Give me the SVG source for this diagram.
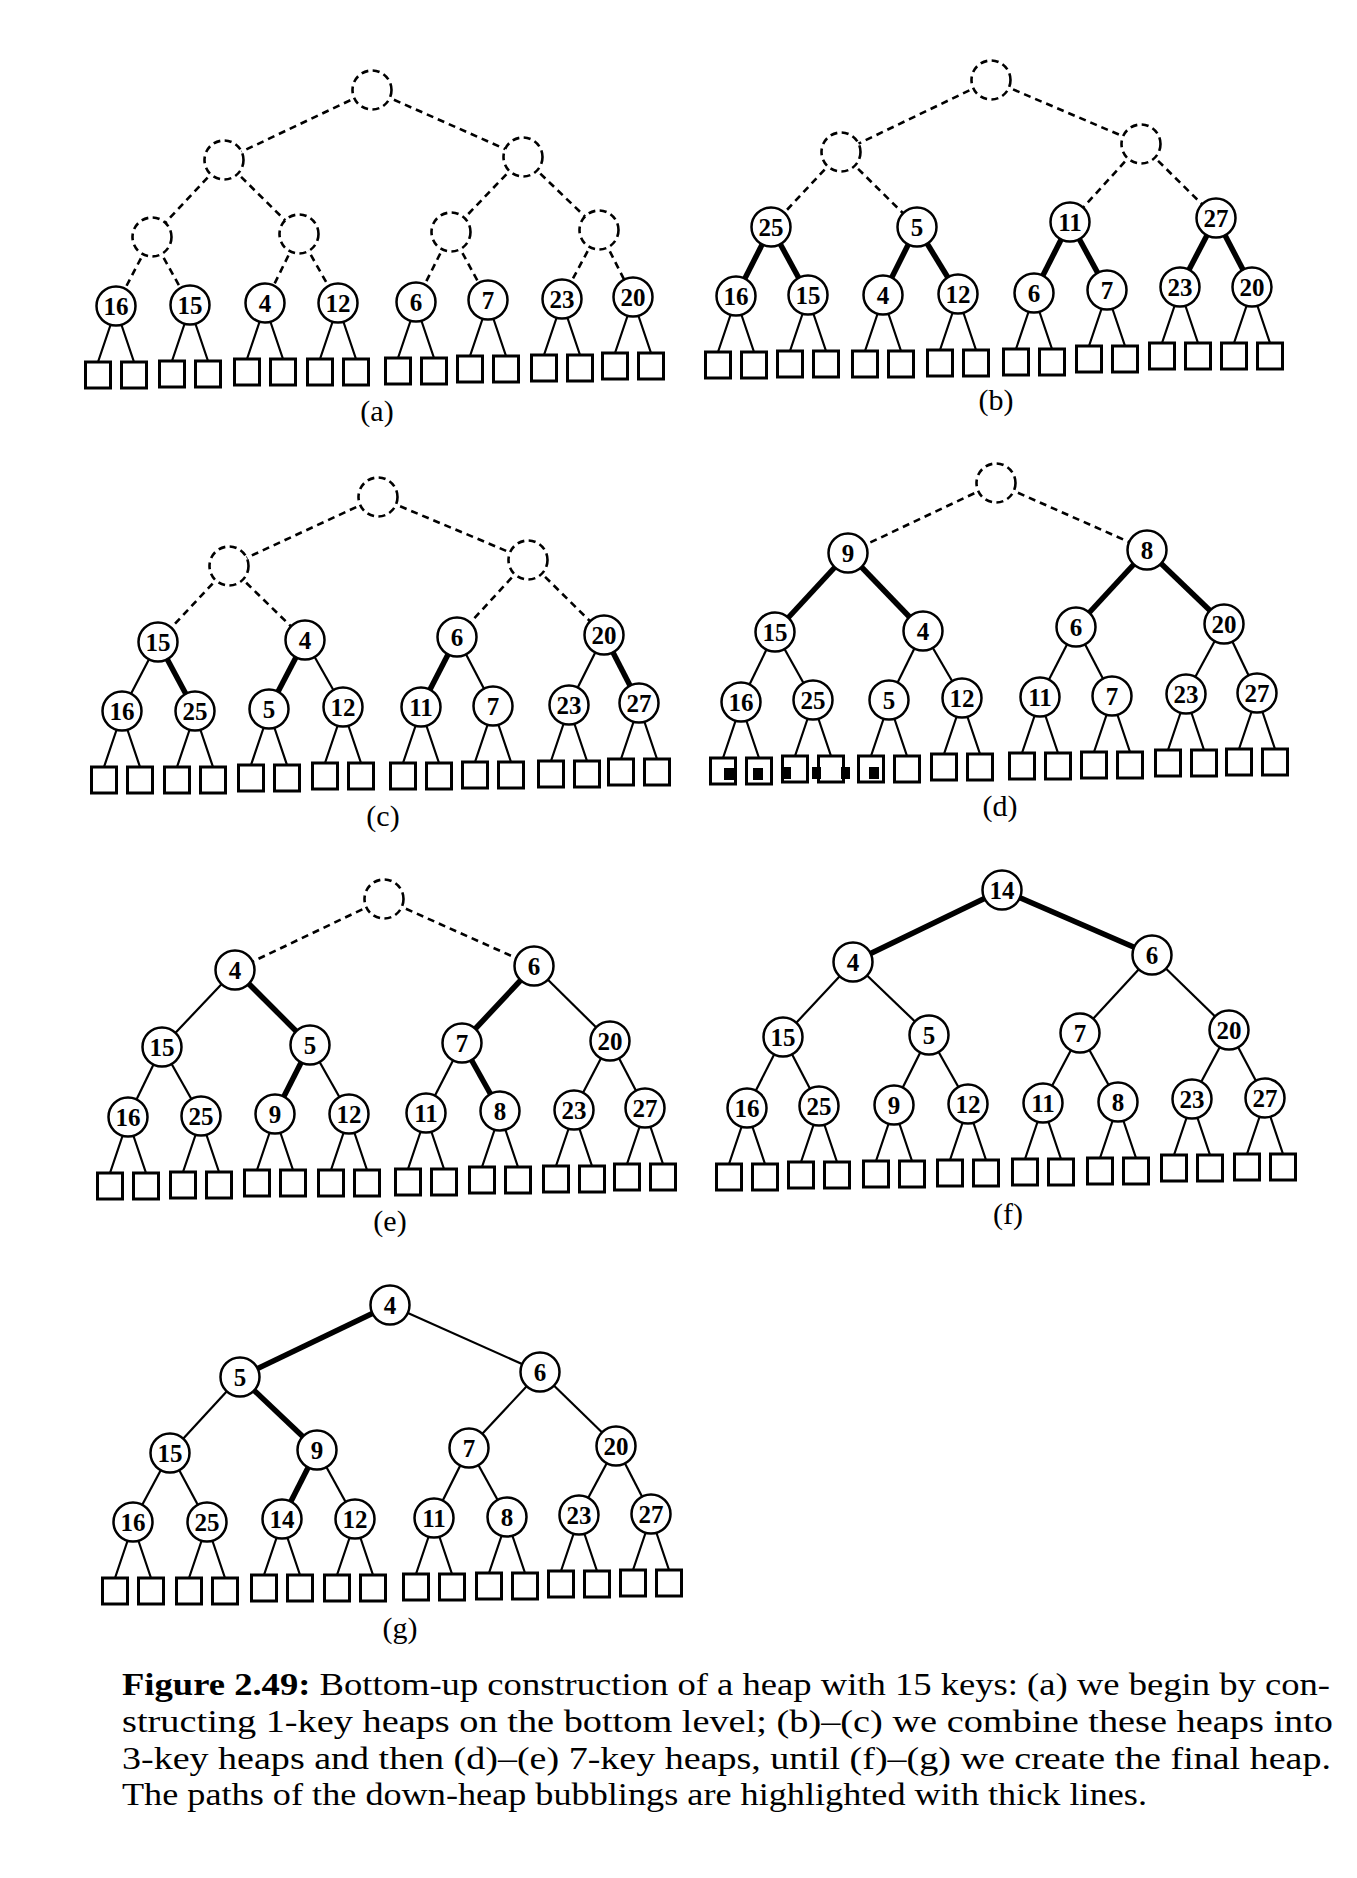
<svg xmlns="http://www.w3.org/2000/svg" xmlns:xlink="http://www.w3.org/1999/xlink" width="1357" height="1878" viewBox="0 0 1357 1878">
<style>
.nd circle{fill:#fff;stroke:#000;stroke-width:2.5}
.ds circle{stroke-dasharray:7 4.5;stroke-width:2.6}
.nd text{font-family:"Liberation Serif",serif;font-weight:bold;font-size:25px;text-anchor:middle}
.sq rect{fill:#fff;stroke:#000;stroke-width:3}
.cn path{stroke:#000;fill:none}
.th{stroke-width:2.2}
.tk{stroke-width:5.5}
.dl{stroke-width:2.6;stroke-dasharray:7 5}
.lab{font-family:"Liberation Serif",serif;font-size:30px;text-anchor:middle}
.cap{font-family:"Liberation Serif",serif;font-size:31px}
.mk{fill:#000}
</style>
<defs>
<path id="le" d="M-5.5,19L-18,56M5.5,19L18,56" stroke="#000" stroke-width="2.2" fill="none"/>
</defs>
<rect width="1357" height="1878" fill="#fff"/>

<g id="connectors" class="cn">
<!-- a -->
<path class="dl" d="M372,90L224,160"/><path class="dl" d="M372,90L523,157"/>
<path class="dl" d="M224,160L152,237"/><path class="dl" d="M224,160L299,234"/>
<path class="dl" d="M523,157L451,232"/><path class="dl" d="M523,157L599,230"/>
<path class="dl" d="M152,237L116,306"/><path class="dl" d="M152,237L190,305"/>
<path class="dl" d="M299,234L265,303"/><path class="dl" d="M299,234L338,303"/>
<path class="dl" d="M451,232L416,302"/><path class="dl" d="M451,232L488,300"/>
<path class="dl" d="M599,230L562,299"/><path class="dl" d="M599,230L633,297"/>
<use href="#le" x="116" y="306"/><use href="#le" x="190" y="305"/><use href="#le" x="265" y="303"/><use href="#le" x="338" y="303"/>
<use href="#le" x="416" y="302"/><use href="#le" x="488" y="300"/><use href="#le" x="562" y="299"/><use href="#le" x="633" y="297"/>
<!-- b -->
<path class="dl" d="M991,80L841,152"/><path class="dl" d="M991,80L1141,144"/>
<path class="dl" d="M841,152L771,227"/><path class="dl" d="M841,152L917,227"/>
<path class="dl" d="M1141,144L1070,222"/><path class="dl" d="M1141,144L1216,218"/>
<path class="tk" d="M771,227L736,296"/><path class="tk" d="M771,227L808,295"/>
<path class="tk" d="M917,227L883,295"/><path class="tk" d="M917,227L958,294"/>
<path class="tk" d="M1070,222L1034,293"/><path class="tk" d="M1070,222L1107,290"/>
<path class="tk" d="M1216,218L1180,287"/><path class="tk" d="M1216,218L1252,287"/>
<use href="#le" x="736" y="296"/><use href="#le" x="808" y="295"/><use href="#le" x="883" y="295"/><use href="#le" x="958" y="294"/>
<use href="#le" x="1034" y="293"/><use href="#le" x="1107" y="290"/><use href="#le" x="1180" y="287"/><use href="#le" x="1252" y="287"/>
<!-- c -->
<path class="dl" d="M378,497L229,566"/><path class="dl" d="M378,497L528,560"/>
<path class="dl" d="M229,566L158,642"/><path class="dl" d="M229,566L305,640"/>
<path class="dl" d="M528,560L457,637"/><path class="dl" d="M528,560L604,635"/>
<path class="th" d="M158,642L122,711"/><path class="tk" d="M158,642L195,711"/>
<path class="tk" d="M305,640L269,709"/><path class="th" d="M305,640L343,707"/>
<path class="tk" d="M457,637L421,707"/><path class="th" d="M457,637L493,706"/>
<path class="th" d="M604,635L569,705"/><path class="tk" d="M604,635L639,703"/>
<use href="#le" x="122" y="711"/><use href="#le" x="195" y="711"/><use href="#le" x="269" y="709"/><use href="#le" x="343" y="707"/>
<use href="#le" x="421" y="707"/><use href="#le" x="493" y="706"/><use href="#le" x="569" y="705"/><use href="#le" x="639" y="703"/>
<!-- d -->
<path class="dl" d="M996,483L848,553"/><path class="dl" d="M996,483L1147,550"/>
<path class="tk" d="M848,553L775,632"/><path class="tk" d="M848,553L923,631"/>
<path class="tk" d="M1147,550L1076,627"/><path class="tk" d="M1147,550L1224,624"/>
<path class="th" d="M775,632L741,702"/><path class="th" d="M775,632L813,700"/>
<path class="th" d="M923,631L889,700"/><path class="th" d="M923,631L962,698"/>
<path class="th" d="M1076,627L1040,697"/><path class="th" d="M1076,627L1112,696"/>
<path class="th" d="M1224,624L1186,694"/><path class="th" d="M1224,624L1257,693"/>
<use href="#le" x="741" y="702"/><use href="#le" x="813" y="700"/><use href="#le" x="889" y="700"/><use href="#le" x="962" y="698"/>
<use href="#le" x="1040" y="697"/><use href="#le" x="1112" y="696"/><use href="#le" x="1186" y="694"/><use href="#le" x="1257" y="693"/>
<!-- e -->
<path class="dl" d="M384,899L235,970"/><path class="dl" d="M384,899L534,966"/>
<path class="th" d="M235,970L162,1047"/><path class="tk" d="M235,970L310,1045"/>
<path class="tk" d="M534,966L462,1043"/><path class="th" d="M534,966L610,1041"/>
<path class="th" d="M162,1047L128,1117"/><path class="th" d="M162,1047L201,1116"/>
<path class="tk" d="M310,1045L275,1114"/><path class="th" d="M310,1045L349,1114"/>
<path class="th" d="M462,1043L426,1113"/><path class="tk" d="M462,1043L500,1111"/>
<path class="th" d="M610,1041L574,1110"/><path class="th" d="M610,1041L645,1108"/>
<use href="#le" x="128" y="1117"/><use href="#le" x="201" y="1116"/><use href="#le" x="275" y="1114"/><use href="#le" x="349" y="1114"/>
<use href="#le" x="426" y="1113"/><use href="#le" x="500" y="1111"/><use href="#le" x="574" y="1110"/><use href="#le" x="645" y="1108"/>
<!-- f -->
<path class="tk" d="M1002,890L853,962"/><path class="tk" d="M1002,890L1152,955"/>
<path class="th" d="M853,962L783,1037"/><path class="th" d="M853,962L929,1035"/>
<path class="th" d="M1152,955L1080,1033"/><path class="th" d="M1152,955L1229,1030"/>
<path class="th" d="M783,1037L747,1108"/><path class="th" d="M783,1037L819,1106"/>
<path class="th" d="M929,1035L894,1105"/><path class="th" d="M929,1035L968,1104"/>
<path class="th" d="M1080,1033L1043,1103"/><path class="th" d="M1080,1033L1118,1102"/>
<path class="th" d="M1229,1030L1192,1099"/><path class="th" d="M1229,1030L1265,1098"/>
<use href="#le" x="747" y="1108"/><use href="#le" x="819" y="1106"/><use href="#le" x="894" y="1105"/><use href="#le" x="968" y="1104"/>
<use href="#le" x="1043" y="1103"/><use href="#le" x="1118" y="1102"/><use href="#le" x="1192" y="1099"/><use href="#le" x="1265" y="1098"/>
<!-- g -->
<path class="tk" d="M390,1305L240,1377"/><path class="th" d="M390,1305L540,1372"/>
<path class="th" d="M240,1377L170,1453"/><path class="tk" d="M240,1377L317,1450"/>
<path class="th" d="M540,1372L469,1448"/><path class="th" d="M540,1372L616,1446"/>
<path class="th" d="M170,1453L133,1522"/><path class="th" d="M170,1453L207,1522"/>
<path class="tk" d="M317,1450L282,1519"/><path class="th" d="M317,1450L355,1519"/>
<path class="th" d="M469,1448L434,1518"/><path class="th" d="M469,1448L507,1517"/>
<path class="th" d="M616,1446L579,1515"/><path class="th" d="M616,1446L651,1514"/>
<use href="#le" x="133" y="1522"/><use href="#le" x="207" y="1522"/><use href="#le" x="282" y="1519"/><use href="#le" x="355" y="1519"/>
<use href="#le" x="434" y="1518"/><use href="#le" x="507" y="1517"/><use href="#le" x="579" y="1515"/><use href="#le" x="651" y="1514"/>
</g>

<!-- Panel a -->
<g id="panel-a">
<g id="a-r" class="nd ds" transform="translate(372,90)"><circle r="19.5"/></g>
<g id="a-i1" class="nd ds" transform="translate(224,160)"><circle r="19.5"/></g>
<g id="a-i2" class="nd ds" transform="translate(523,157)"><circle r="19.5"/></g>
<g id="a-j1" class="nd ds" transform="translate(152,237)"><circle r="19.5"/></g>
<g id="a-j2" class="nd ds" transform="translate(299,234)"><circle r="19.5"/></g>
<g id="a-j3" class="nd ds" transform="translate(451,232)"><circle r="19.5"/></g>
<g id="a-j4" class="nd ds" transform="translate(599,230)"><circle r="19.5"/></g>
<g id="a-k1" class="nd" transform="translate(116,306)"><circle r="19.5"/><text y="8.5">16</text></g>
<g id="a-k2" class="nd" transform="translate(190,305)"><circle r="19.5"/><text y="8.5">15</text></g>
<g id="a-k3" class="nd" transform="translate(265,303)"><circle r="19.5"/><text y="8.5">4</text></g>
<g id="a-k4" class="nd" transform="translate(338,303)"><circle r="19.5"/><text y="8.5">12</text></g>
<g id="a-k5" class="nd" transform="translate(416,302)"><circle r="19.5"/><text y="8.5">6</text></g>
<g id="a-k6" class="nd" transform="translate(488,300)"><circle r="19.5"/><text y="8.5">7</text></g>
<g id="a-k7" class="nd" transform="translate(562,299)"><circle r="19.5"/><text y="8.5">23</text></g>
<g id="a-k8" class="nd" transform="translate(633,297)"><circle r="19.5"/><text y="8.5">20</text></g>
<g id="a-x1" class="sq"><rect x="85.5" y="362" width="25" height="26"/></g>
<g id="a-x2" class="sq"><rect x="121.5" y="362" width="25" height="26"/></g>
<g id="a-x3" class="sq"><rect x="159.5" y="361" width="25" height="26"/></g>
<g id="a-x4" class="sq"><rect x="195.5" y="361" width="25" height="26"/></g>
<g id="a-x5" class="sq"><rect x="234.5" y="359" width="25" height="26"/></g>
<g id="a-x6" class="sq"><rect x="270.5" y="359" width="25" height="26"/></g>
<g id="a-x7" class="sq"><rect x="307.5" y="359" width="25" height="26"/></g>
<g id="a-x8" class="sq"><rect x="343.5" y="359" width="25" height="26"/></g>
<g id="a-x9" class="sq"><rect x="385.5" y="358" width="25" height="26"/></g>
<g id="a-x10" class="sq"><rect x="421.5" y="358" width="25" height="26"/></g>
<g id="a-x11" class="sq"><rect x="457.5" y="356" width="25" height="26"/></g>
<g id="a-x12" class="sq"><rect x="493.5" y="356" width="25" height="26"/></g>
<g id="a-x13" class="sq"><rect x="531.5" y="355" width="25" height="26"/></g>
<g id="a-x14" class="sq"><rect x="567.5" y="355" width="25" height="26"/></g>
<g id="a-x15" class="sq"><rect x="602.5" y="353" width="25" height="26"/></g>
<g id="a-x16" class="sq"><rect x="638.5" y="353" width="25" height="26"/></g>
<text class="lab" x="377" y="421">(a)</text>
</g>

<!-- Panel b -->
<g id="panel-b">
<g id="b-r" class="nd ds" transform="translate(991,80)"><circle r="19.5"/></g>
<g id="b-i1" class="nd ds" transform="translate(841,152)"><circle r="19.5"/></g>
<g id="b-i2" class="nd ds" transform="translate(1141,144)"><circle r="19.5"/></g>
<g id="b-j1" class="nd" transform="translate(771,227)"><circle r="19.5"/><text y="8.5">25</text></g>
<g id="b-j2" class="nd" transform="translate(917,227)"><circle r="19.5"/><text y="8.5">5</text></g>
<g id="b-j3" class="nd" transform="translate(1070,222)"><circle r="19.5"/><text y="8.5">11</text></g>
<g id="b-j4" class="nd" transform="translate(1216,218)"><circle r="19.5"/><text y="8.5">27</text></g>
<g id="b-k1" class="nd" transform="translate(736,296)"><circle r="19.5"/><text y="8.5">16</text></g>
<g id="b-k2" class="nd" transform="translate(808,295)"><circle r="19.5"/><text y="8.5">15</text></g>
<g id="b-k3" class="nd" transform="translate(883,295)"><circle r="19.5"/><text y="8.5">4</text></g>
<g id="b-k4" class="nd" transform="translate(958,294)"><circle r="19.5"/><text y="8.5">12</text></g>
<g id="b-k5" class="nd" transform="translate(1034,293)"><circle r="19.5"/><text y="8.5">6</text></g>
<g id="b-k6" class="nd" transform="translate(1107,290)"><circle r="19.5"/><text y="8.5">7</text></g>
<g id="b-k7" class="nd" transform="translate(1180,287)"><circle r="19.5"/><text y="8.5">23</text></g>
<g id="b-k8" class="nd" transform="translate(1252,287)"><circle r="19.5"/><text y="8.5">20</text></g>
<g id="b-x1" class="sq"><rect x="705.5" y="352" width="25" height="26"/></g>
<g id="b-x2" class="sq"><rect x="741.5" y="352" width="25" height="26"/></g>
<g id="b-x3" class="sq"><rect x="777.5" y="351" width="25" height="26"/></g>
<g id="b-x4" class="sq"><rect x="813.5" y="351" width="25" height="26"/></g>
<g id="b-x5" class="sq"><rect x="852.5" y="351" width="25" height="26"/></g>
<g id="b-x6" class="sq"><rect x="888.5" y="351" width="25" height="26"/></g>
<g id="b-x7" class="sq"><rect x="927.5" y="350" width="25" height="26"/></g>
<g id="b-x8" class="sq"><rect x="963.5" y="350" width="25" height="26"/></g>
<g id="b-x9" class="sq"><rect x="1003.5" y="349" width="25" height="26"/></g>
<g id="b-x10" class="sq"><rect x="1039.5" y="349" width="25" height="26"/></g>
<g id="b-x11" class="sq"><rect x="1076.5" y="346" width="25" height="26"/></g>
<g id="b-x12" class="sq"><rect x="1112.5" y="346" width="25" height="26"/></g>
<g id="b-x13" class="sq"><rect x="1149.5" y="343" width="25" height="26"/></g>
<g id="b-x14" class="sq"><rect x="1185.5" y="343" width="25" height="26"/></g>
<g id="b-x15" class="sq"><rect x="1221.5" y="343" width="25" height="26"/></g>
<g id="b-x16" class="sq"><rect x="1257.5" y="343" width="25" height="26"/></g>
<text class="lab" x="996" y="410">(b)</text>
</g>

<!-- Panel c -->
<g id="panel-c">
<g id="c-r" class="nd ds" transform="translate(378,497)"><circle r="19.5"/></g>
<g id="c-i1" class="nd ds" transform="translate(229,566)"><circle r="19.5"/></g>
<g id="c-i2" class="nd ds" transform="translate(528,560)"><circle r="19.5"/></g>
<g id="c-j1" class="nd" transform="translate(158,642)"><circle r="19.5"/><text y="8.5">15</text></g>
<g id="c-j2" class="nd" transform="translate(305,640)"><circle r="19.5"/><text y="8.5">4</text></g>
<g id="c-j3" class="nd" transform="translate(457,637)"><circle r="19.5"/><text y="8.5">6</text></g>
<g id="c-j4" class="nd" transform="translate(604,635)"><circle r="19.5"/><text y="8.5">20</text></g>
<g id="c-k1" class="nd" transform="translate(122,711)"><circle r="19.5"/><text y="8.5">16</text></g>
<g id="c-k2" class="nd" transform="translate(195,711)"><circle r="19.5"/><text y="8.5">25</text></g>
<g id="c-k3" class="nd" transform="translate(269,709)"><circle r="19.5"/><text y="8.5">5</text></g>
<g id="c-k4" class="nd" transform="translate(343,707)"><circle r="19.5"/><text y="8.5">12</text></g>
<g id="c-k5" class="nd" transform="translate(421,707)"><circle r="19.5"/><text y="8.5">11</text></g>
<g id="c-k6" class="nd" transform="translate(493,706)"><circle r="19.5"/><text y="8.5">7</text></g>
<g id="c-k7" class="nd" transform="translate(569,705)"><circle r="19.5"/><text y="8.5">23</text></g>
<g id="c-k8" class="nd" transform="translate(639,703)"><circle r="19.5"/><text y="8.5">27</text></g>
<g id="c-x1" class="sq"><rect x="91.5" y="767" width="25" height="26"/></g>
<g id="c-x2" class="sq"><rect x="127.5" y="767" width="25" height="26"/></g>
<g id="c-x3" class="sq"><rect x="164.5" y="767" width="25" height="26"/></g>
<g id="c-x4" class="sq"><rect x="200.5" y="767" width="25" height="26"/></g>
<g id="c-x5" class="sq"><rect x="238.5" y="765" width="25" height="26"/></g>
<g id="c-x6" class="sq"><rect x="274.5" y="765" width="25" height="26"/></g>
<g id="c-x7" class="sq"><rect x="312.5" y="763" width="25" height="26"/></g>
<g id="c-x8" class="sq"><rect x="348.5" y="763" width="25" height="26"/></g>
<g id="c-x9" class="sq"><rect x="390.5" y="763" width="25" height="26"/></g>
<g id="c-x10" class="sq"><rect x="426.5" y="763" width="25" height="26"/></g>
<g id="c-x11" class="sq"><rect x="462.5" y="762" width="25" height="26"/></g>
<g id="c-x12" class="sq"><rect x="498.5" y="762" width="25" height="26"/></g>
<g id="c-x13" class="sq"><rect x="538.5" y="761" width="25" height="26"/></g>
<g id="c-x14" class="sq"><rect x="574.5" y="761" width="25" height="26"/></g>
<g id="c-x15" class="sq"><rect x="608.5" y="759" width="25" height="26"/></g>
<g id="c-x16" class="sq"><rect x="644.5" y="759" width="25" height="26"/></g>
<text class="lab" x="383" y="826">(c)</text>
</g>

<!-- Panel d -->
<g id="panel-d">
<g id="d-r" class="nd ds" transform="translate(996,483)"><circle r="19.5"/></g>
<g id="d-i1" class="nd" transform="translate(848,553)"><circle r="19.5"/><text y="8.5">9</text></g>
<g id="d-i2" class="nd" transform="translate(1147,550)"><circle r="19.5"/><text y="8.5">8</text></g>
<g id="d-j1" class="nd" transform="translate(775,632)"><circle r="19.5"/><text y="8.5">15</text></g>
<g id="d-j2" class="nd" transform="translate(923,631)"><circle r="19.5"/><text y="8.5">4</text></g>
<g id="d-j3" class="nd" transform="translate(1076,627)"><circle r="19.5"/><text y="8.5">6</text></g>
<g id="d-j4" class="nd" transform="translate(1224,624)"><circle r="19.5"/><text y="8.5">20</text></g>
<g id="d-k1" class="nd" transform="translate(741,702)"><circle r="19.5"/><text y="8.5">16</text></g>
<g id="d-k2" class="nd" transform="translate(813,700)"><circle r="19.5"/><text y="8.5">25</text></g>
<g id="d-k3" class="nd" transform="translate(889,700)"><circle r="19.5"/><text y="8.5">5</text></g>
<g id="d-k4" class="nd" transform="translate(962,698)"><circle r="19.5"/><text y="8.5">12</text></g>
<g id="d-k5" class="nd" transform="translate(1040,697)"><circle r="19.5"/><text y="8.5">11</text></g>
<g id="d-k6" class="nd" transform="translate(1112,696)"><circle r="19.5"/><text y="8.5">7</text></g>
<g id="d-k7" class="nd" transform="translate(1186,694)"><circle r="19.5"/><text y="8.5">23</text></g>
<g id="d-k8" class="nd" transform="translate(1257,693)"><circle r="19.5"/><text y="8.5">27</text></g>
<g id="d-x1" class="sq"><rect x="710.5" y="758" width="25" height="26"/></g>
<g id="d-x2" class="sq"><rect x="746.5" y="758" width="25" height="26"/></g>
<g id="d-x3" class="sq"><rect x="782.5" y="756" width="25" height="26"/></g>
<g id="d-x4" class="sq"><rect x="818.5" y="756" width="25" height="26"/></g>
<g id="d-x5" class="sq"><rect x="858.5" y="756" width="25" height="26"/></g>
<g id="d-x6" class="sq"><rect x="894.5" y="756" width="25" height="26"/></g>
<g id="d-x7" class="sq"><rect x="931.5" y="754" width="25" height="26"/></g>
<g id="d-x8" class="sq"><rect x="967.5" y="754" width="25" height="26"/></g>
<g id="d-x9" class="sq"><rect x="1009.5" y="753" width="25" height="26"/></g>
<g id="d-x10" class="sq"><rect x="1045.5" y="753" width="25" height="26"/></g>
<g id="d-x11" class="sq"><rect x="1081.5" y="752" width="25" height="26"/></g>
<g id="d-x12" class="sq"><rect x="1117.5" y="752" width="25" height="26"/></g>
<g id="d-x13" class="sq"><rect x="1155.5" y="750" width="25" height="26"/></g>
<g id="d-x14" class="sq"><rect x="1191.5" y="750" width="25" height="26"/></g>
<g id="d-x15" class="sq"><rect x="1226.5" y="749" width="25" height="26"/></g>
<g id="d-x16" class="sq"><rect x="1262.5" y="749" width="25" height="26"/></g>
<g id="d-marks" class="mk">
<rect x="724" y="768" width="10" height="12"/>
<rect x="753" y="768" width="10" height="12"/>
<rect x="781" y="767" width="10" height="12"/>
<rect x="812" y="767" width="9" height="12"/>
<rect x="841" y="767" width="9" height="12"/>
<rect x="869" y="767" width="10" height="12"/>
</g>
<text class="lab" x="1000" y="816">(d)</text>
</g>

<!-- Panel e -->
<g id="panel-e">
<g id="e-r" class="nd ds" transform="translate(384,899)"><circle r="19.5"/></g>
<g id="e-i1" class="nd" transform="translate(235,970)"><circle r="19.5"/><text y="8.5">4</text></g>
<g id="e-i2" class="nd" transform="translate(534,966)"><circle r="19.5"/><text y="8.5">6</text></g>
<g id="e-j1" class="nd" transform="translate(162,1047)"><circle r="19.5"/><text y="8.5">15</text></g>
<g id="e-j2" class="nd" transform="translate(310,1045)"><circle r="19.5"/><text y="8.5">5</text></g>
<g id="e-j3" class="nd" transform="translate(462,1043)"><circle r="19.5"/><text y="8.5">7</text></g>
<g id="e-j4" class="nd" transform="translate(610,1041)"><circle r="19.5"/><text y="8.5">20</text></g>
<g id="e-k1" class="nd" transform="translate(128,1117)"><circle r="19.5"/><text y="8.5">16</text></g>
<g id="e-k2" class="nd" transform="translate(201,1116)"><circle r="19.5"/><text y="8.5">25</text></g>
<g id="e-k3" class="nd" transform="translate(275,1114)"><circle r="19.5"/><text y="8.5">9</text></g>
<g id="e-k4" class="nd" transform="translate(349,1114)"><circle r="19.5"/><text y="8.5">12</text></g>
<g id="e-k5" class="nd" transform="translate(426,1113)"><circle r="19.5"/><text y="8.5">11</text></g>
<g id="e-k6" class="nd" transform="translate(500,1111)"><circle r="19.5"/><text y="8.5">8</text></g>
<g id="e-k7" class="nd" transform="translate(574,1110)"><circle r="19.5"/><text y="8.5">23</text></g>
<g id="e-k8" class="nd" transform="translate(645,1108)"><circle r="19.5"/><text y="8.5">27</text></g>
<g id="e-x1" class="sq"><rect x="97.5" y="1173" width="25" height="26"/></g>
<g id="e-x2" class="sq"><rect x="133.5" y="1173" width="25" height="26"/></g>
<g id="e-x3" class="sq"><rect x="170.5" y="1172" width="25" height="26"/></g>
<g id="e-x4" class="sq"><rect x="206.5" y="1172" width="25" height="26"/></g>
<g id="e-x5" class="sq"><rect x="244.5" y="1170" width="25" height="26"/></g>
<g id="e-x6" class="sq"><rect x="280.5" y="1170" width="25" height="26"/></g>
<g id="e-x7" class="sq"><rect x="318.5" y="1170" width="25" height="26"/></g>
<g id="e-x8" class="sq"><rect x="354.5" y="1170" width="25" height="26"/></g>
<g id="e-x9" class="sq"><rect x="395.5" y="1169" width="25" height="26"/></g>
<g id="e-x10" class="sq"><rect x="431.5" y="1169" width="25" height="26"/></g>
<g id="e-x11" class="sq"><rect x="469.5" y="1167" width="25" height="26"/></g>
<g id="e-x12" class="sq"><rect x="505.5" y="1167" width="25" height="26"/></g>
<g id="e-x13" class="sq"><rect x="543.5" y="1166" width="25" height="26"/></g>
<g id="e-x14" class="sq"><rect x="579.5" y="1166" width="25" height="26"/></g>
<g id="e-x15" class="sq"><rect x="614.5" y="1164" width="25" height="26"/></g>
<g id="e-x16" class="sq"><rect x="650.5" y="1164" width="25" height="26"/></g>
<text class="lab" x="390" y="1231">(e)</text>
</g>

<!-- Panel f -->
<g id="panel-f">
<g id="f-r" class="nd" transform="translate(1002,890)"><circle r="19.5"/><text y="8.5">14</text></g>
<g id="f-i1" class="nd" transform="translate(853,962)"><circle r="19.5"/><text y="8.5">4</text></g>
<g id="f-i2" class="nd" transform="translate(1152,955)"><circle r="19.5"/><text y="8.5">6</text></g>
<g id="f-j1" class="nd" transform="translate(783,1037)"><circle r="19.5"/><text y="8.5">15</text></g>
<g id="f-j2" class="nd" transform="translate(929,1035)"><circle r="19.5"/><text y="8.5">5</text></g>
<g id="f-j3" class="nd" transform="translate(1080,1033)"><circle r="19.5"/><text y="8.5">7</text></g>
<g id="f-j4" class="nd" transform="translate(1229,1030)"><circle r="19.5"/><text y="8.5">20</text></g>
<g id="f-k1" class="nd" transform="translate(747,1108)"><circle r="19.5"/><text y="8.5">16</text></g>
<g id="f-k2" class="nd" transform="translate(819,1106)"><circle r="19.5"/><text y="8.5">25</text></g>
<g id="f-k3" class="nd" transform="translate(894,1105)"><circle r="19.5"/><text y="8.5">9</text></g>
<g id="f-k4" class="nd" transform="translate(968,1104)"><circle r="19.5"/><text y="8.5">12</text></g>
<g id="f-k5" class="nd" transform="translate(1043,1103)"><circle r="19.5"/><text y="8.5">11</text></g>
<g id="f-k6" class="nd" transform="translate(1118,1102)"><circle r="19.5"/><text y="8.5">8</text></g>
<g id="f-k7" class="nd" transform="translate(1192,1099)"><circle r="19.5"/><text y="8.5">23</text></g>
<g id="f-k8" class="nd" transform="translate(1265,1098)"><circle r="19.5"/><text y="8.5">27</text></g>
<g id="f-x1" class="sq"><rect x="716.5" y="1164" width="25" height="26"/></g>
<g id="f-x2" class="sq"><rect x="752.5" y="1164" width="25" height="26"/></g>
<g id="f-x3" class="sq"><rect x="788.5" y="1162" width="25" height="26"/></g>
<g id="f-x4" class="sq"><rect x="824.5" y="1162" width="25" height="26"/></g>
<g id="f-x5" class="sq"><rect x="863.5" y="1161" width="25" height="26"/></g>
<g id="f-x6" class="sq"><rect x="899.5" y="1161" width="25" height="26"/></g>
<g id="f-x7" class="sq"><rect x="937.5" y="1160" width="25" height="26"/></g>
<g id="f-x8" class="sq"><rect x="973.5" y="1160" width="25" height="26"/></g>
<g id="f-x9" class="sq"><rect x="1012.5" y="1159" width="25" height="26"/></g>
<g id="f-x10" class="sq"><rect x="1048.5" y="1159" width="25" height="26"/></g>
<g id="f-x11" class="sq"><rect x="1087.5" y="1158" width="25" height="26"/></g>
<g id="f-x12" class="sq"><rect x="1123.5" y="1158" width="25" height="26"/></g>
<g id="f-x13" class="sq"><rect x="1161.5" y="1155" width="25" height="26"/></g>
<g id="f-x14" class="sq"><rect x="1197.5" y="1155" width="25" height="26"/></g>
<g id="f-x15" class="sq"><rect x="1234.5" y="1154" width="25" height="26"/></g>
<g id="f-x16" class="sq"><rect x="1270.5" y="1154" width="25" height="26"/></g>
<text class="lab" x="1008" y="1224">(f)</text>
</g>

<!-- Panel g -->
<g id="panel-g">
<g id="g-r" class="nd" transform="translate(390,1305)"><circle r="19.5"/><text y="8.5">4</text></g>
<g id="g-i1" class="nd" transform="translate(240,1377)"><circle r="19.5"/><text y="8.5">5</text></g>
<g id="g-i2" class="nd" transform="translate(540,1372)"><circle r="19.5"/><text y="8.5">6</text></g>
<g id="g-j1" class="nd" transform="translate(170,1453)"><circle r="19.5"/><text y="8.5">15</text></g>
<g id="g-j2" class="nd" transform="translate(317,1450)"><circle r="19.5"/><text y="8.5">9</text></g>
<g id="g-j3" class="nd" transform="translate(469,1448)"><circle r="19.5"/><text y="8.5">7</text></g>
<g id="g-j4" class="nd" transform="translate(616,1446)"><circle r="19.5"/><text y="8.5">20</text></g>
<g id="g-k1" class="nd" transform="translate(133,1522)"><circle r="19.5"/><text y="8.5">16</text></g>
<g id="g-k2" class="nd" transform="translate(207,1522)"><circle r="19.5"/><text y="8.5">25</text></g>
<g id="g-k3" class="nd" transform="translate(282,1519)"><circle r="19.5"/><text y="8.5">14</text></g>
<g id="g-k4" class="nd" transform="translate(355,1519)"><circle r="19.5"/><text y="8.5">12</text></g>
<g id="g-k5" class="nd" transform="translate(434,1518)"><circle r="19.5"/><text y="8.5">11</text></g>
<g id="g-k6" class="nd" transform="translate(507,1517)"><circle r="19.5"/><text y="8.5">8</text></g>
<g id="g-k7" class="nd" transform="translate(579,1515)"><circle r="19.5"/><text y="8.5">23</text></g>
<g id="g-k8" class="nd" transform="translate(651,1514)"><circle r="19.5"/><text y="8.5">27</text></g>
<g id="g-x1" class="sq"><rect x="102.5" y="1578" width="25" height="26"/></g>
<g id="g-x2" class="sq"><rect x="138.5" y="1578" width="25" height="26"/></g>
<g id="g-x3" class="sq"><rect x="176.5" y="1578" width="25" height="26"/></g>
<g id="g-x4" class="sq"><rect x="212.5" y="1578" width="25" height="26"/></g>
<g id="g-x5" class="sq"><rect x="251.5" y="1575" width="25" height="26"/></g>
<g id="g-x6" class="sq"><rect x="287.5" y="1575" width="25" height="26"/></g>
<g id="g-x7" class="sq"><rect x="324.5" y="1575" width="25" height="26"/></g>
<g id="g-x8" class="sq"><rect x="360.5" y="1575" width="25" height="26"/></g>
<g id="g-x9" class="sq"><rect x="403.5" y="1574" width="25" height="26"/></g>
<g id="g-x10" class="sq"><rect x="439.5" y="1574" width="25" height="26"/></g>
<g id="g-x11" class="sq"><rect x="476.5" y="1573" width="25" height="26"/></g>
<g id="g-x12" class="sq"><rect x="512.5" y="1573" width="25" height="26"/></g>
<g id="g-x13" class="sq"><rect x="548.5" y="1571" width="25" height="26"/></g>
<g id="g-x14" class="sq"><rect x="584.5" y="1571" width="25" height="26"/></g>
<g id="g-x15" class="sq"><rect x="620.5" y="1570" width="25" height="26"/></g>
<g id="g-x16" class="sq"><rect x="656.5" y="1570" width="25" height="26"/></g>
<text class="lab" x="400" y="1638">(g)</text>
</g>

<g id="caption" class="cap">
<text x="122" y="1695" textLength="1208" lengthAdjust="spacingAndGlyphs"><tspan font-weight="bold">Figure 2.49:</tspan> Bottom-up construction of a heap with 15 keys: (a) we begin by con-</text>
<text x="122" y="1732" textLength="1211" lengthAdjust="spacingAndGlyphs">structing 1-key heaps on the bottom level; (b)–(c) we combine these heaps into</text>
<text x="122" y="1769" textLength="1209" lengthAdjust="spacingAndGlyphs">3-key heaps and then (d)–(e) 7-key heaps, until (f)–(g) we create the final heap.</text>
<text x="122" y="1805" textLength="1025" lengthAdjust="spacingAndGlyphs">The paths of the down-heap bubblings are highlighted with thick lines.</text>
</g>
</svg>
